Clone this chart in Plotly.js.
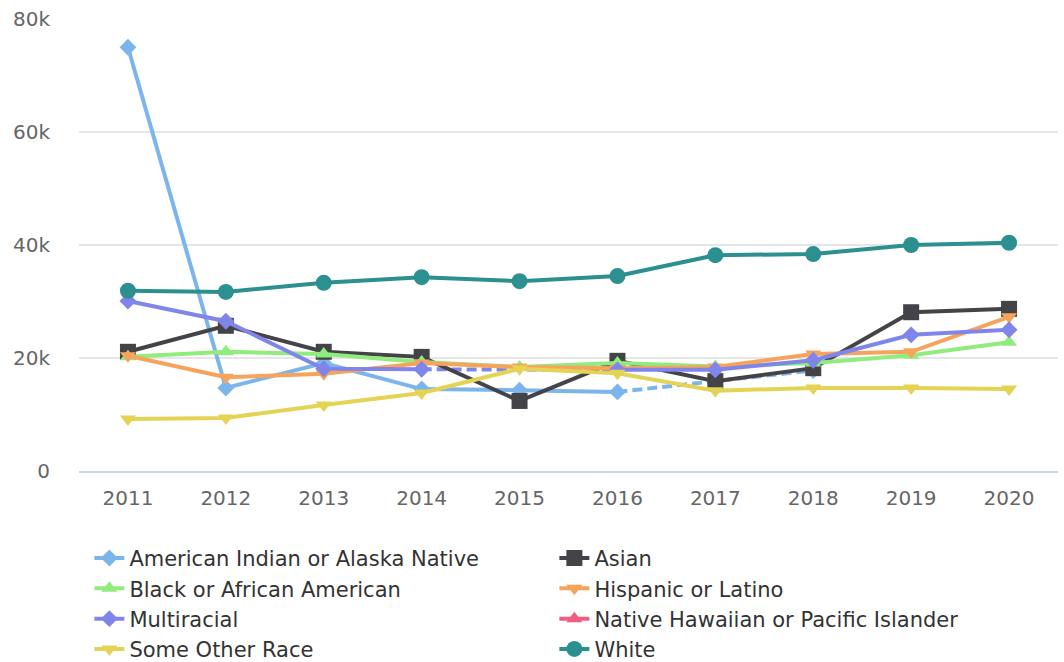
<!DOCTYPE html>
<html>
<head>
<meta charset="utf-8">
<script src="https://cdn.plot.ly/plotly-3.0.1.min.js"></script>
<style>html,body{margin:0;padding:0;background:#fff;}#chart{width:1064px;height:662px;}</style>
</head>
<body>
<div id="chart"></div>
<script>
const years = ["2011","2012","2013","2014","2015","2016","2017","2018","2019","2020"];

const americanIndian = [75000, 14700, 19100, 14500, 14300, 14000, null, 17800, null, null];
const asian          = [21100, 25700, 21100, 20200, 12400, 19500, 15900, 18200, 28100, 28700];
const black          = [20200, 21100, 20700, 19300, 18400, 19100, 18500, 19100, 20500, 22800];
const hispanic       = [20400, 16600, 17200, 19100, 18400, 18200, 18400, 20700, 21100, 27300];
const multiracial    = [30100, 26500, 18100, 18000, null, 17900, 17900, 19600, 24100, 25000];
const nativeHawaiian = [null, null, null, null, null, null, null, null, null, null];
const someOther      = [9200, 9400, 11700, 13800, 18100, 17300, 14200, 14700, 14700, 14500];
const white          = [31900, 31700, 33300, 34300, 33600, 34500, 38200, 38400, 40000, 40400];

const seriesNames = ["American Indian or Alaska Native","Asian","Black or African American","Hispanic or Latino","Multiracial","Native Hawaiian or Pacific Islander","Some Other Race","White"];
const seriesData = [americanIndian, asian, black, hispanic, multiracial, nativeHawaiian, someOther, white];
const colors = ["#7cb5ec","#434348","#90ed7d","#f7a35c","#8085e9","#f15c80","#e4d354","#2b908f"];
const symbols = ["diamond","square","triangle-up","triangle-down","diamond","triangle-up","triangle-down","circle"];
const sizes = [13, 16, 14, 14, 13, 14, 14, 16];

// dashed connectors across null gaps (built from the arrays)
function gapSegments(y) {
  const xs = [], ys = [];
  let last = -1;
  for (let i = 0; i < y.length; i++) {
    if (y[i] === null) continue;
    if (last >= 0 && i - last > 1) {
      xs.push(years[last], years[i], null);
      ys.push(y[last], y[i], null);
    }
    last = i;
  }
  return {xs, ys};
}

const traces = [];
seriesData.forEach((y, k) => {
  const g = gapSegments(y);
  if (g.xs.length) {
    traces.push({
      x: g.xs, y: g.ys, type: "scatter", mode: "lines",
      line: {color: colors[k], width: 4, dash: "10px,5px"},
      showlegend: false, hoverinfo: "skip", legendgroup: seriesNames[k]
    });
  }
});
seriesData.forEach((y, k) => {
  traces.push({
    x: years, y: y, name: seriesNames[k], type: "scatter", mode: "lines+markers",
    line: {color: colors[k], width: 4},
    marker: {symbol: symbols[k], size: sizes[k], color: colors[k]},
    connectgaps: false, legendgroup: seriesNames[k]
  });
});

const layout = {
  width: 1064, height: 662,
  margin: {l: 79, r: 6, t: 19, b: 191},
  paper_bgcolor: "#ffffff", plot_bgcolor: "#ffffff",
  font: {family: "DejaVu Sans, sans-serif", color: "#666666", size: 20},
  showlegend: true,
  xaxis: {
    type: "category", categoryorder: "array", categoryarray: years, range: [-0.5, 9.5],
    showgrid: false, zeroline: false,
    showline: true, linecolor: "#ccd6eb", linewidth: 2,
    ticks: "outside", ticklen: 8, tickcolor: "rgba(0,0,0,0)",
    tickfont: {size: 20, color: "#666666"}
  },
  yaxis: {
    range: [0, 80000], dtick: 20000, tickformat: "~s",
    showgrid: true, gridcolor: "#e6e6e6", gridwidth: 1.5,
    zeroline: false, showline: false,
    ticks: "outside", ticklen: 24, tickcolor: "rgba(0,0,0,0)",
    tickfont: {size: 20, color: "#666666"}
  },
  legend: {
    orientation: "h", xref: "container", yref: "container",
    x: 0.084, xanchor: "left", y: 0.1875, yanchor: "top",
    font: {size: 21, color: "#333333"},
    entrywidth: 420, entrywidthmode: "pixels",
    traceorder: "normal", itemclick: false, bgcolor: "rgba(0,0,0,0)"
  }
};

Plotly.newPlot("chart", traces, layout, {displayModeBar: false, staticPlot: true});
</script>
</body>
</html>
